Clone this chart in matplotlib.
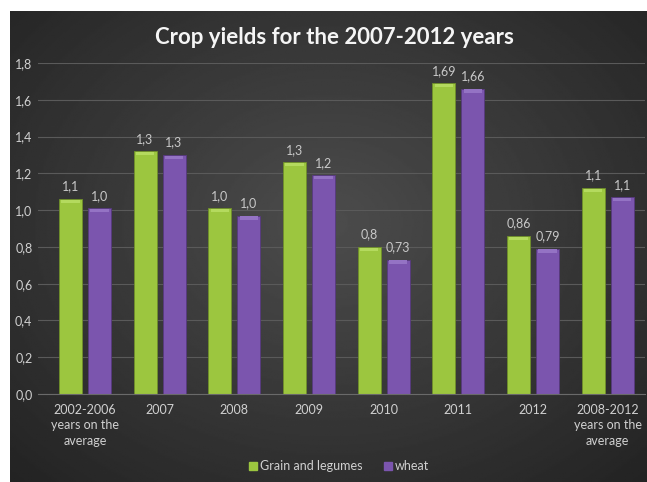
import matplotlib
matplotlib.use('Agg')
import matplotlib.pyplot as plt
import numpy as np

categories = ['2002-2006\nyears on the\naverage', '2007', '2008', '2009', '2010', '2011', '2012',
              '2008-2012\nyears on the\naverage']
grain = [1.06, 1.32, 1.01, 1.26, 0.80, 1.69, 0.86, 1.12]
wheat = [1.01, 1.30, 0.97, 1.19, 0.73, 1.66, 0.79, 1.07]
grain_labels = ['1,1', '1,3', '1,0', '1,3', '0,8', '1,69', '0,86', '1,1']
wheat_labels = ['1,0', '1,3', '1,0', '1,2', '0,73', '1,66', '0,79', '1,1']
yticks = [0.0, 0.2, 0.4, 0.6, 0.8, 1.0, 1.2, 1.4, 1.6, 1.8]
ytick_labels = ['0,0', '0,2', '0,4', '0,6', '0,8', '1,0', '1,2', '1,4', '1,6', '1,8']

plt.rcParams['font.family'] = ['Lato', 'DejaVu Sans']

W, H = 647, 482
fig = plt.figure(figsize=(W / 100, H / 100), dpi=100, facecolor='white')

# dark radial background panel
bg = fig.add_axes([10 / W, 0, 637 / W, 471 / H])
yy, xx = np.mgrid[0:1:300j, 0:1:400j]
r = np.sqrt(((xx - 0.5) / 0.75) ** 2 + ((yy - 0.45) / 0.8) ** 2)
val = np.clip(0.30 - 0.17 * r, 0.14, 0.30)
bg.imshow(val, cmap='gray', vmin=0, vmax=1, aspect='auto', extent=[0, 1, 0, 1])
bg.set_axis_off()

ax = fig.add_axes([38 / W, 88 / H, 607 / W, 331 / H])
ax.set_facecolor('none')
x = np.arange(len(categories))
bw = 0.308
off = 0.194

green = '#9cc63f'
purple = '#7b55ae'
ax.bar(x - off, grain, bw, color=green, edgecolor='#6f8f2a', linewidth=0.6, zorder=3)
ax.bar(x + off, wheat, bw, color=purple, edgecolor='#57397f', linewidth=0.6, zorder=3)
# subtle bevel at bar tops
ax.bar(x - off, [0.018] * len(grain), bw * 0.8, bottom=np.array(grain) - 0.022,
       color='#b4da5e', linewidth=0, zorder=4)
ax.bar(x + off, [0.018] * len(wheat), bw * 0.8, bottom=np.array(wheat) - 0.022,
       color='#9473c4', linewidth=0, zorder=4)

for i in range(len(categories)):
    ax.text(x[i] - off, grain[i] + 0.035, grain_labels[i], ha='center', va='bottom',
            color='#c8c8c8', fontsize=9)
    ax.text(x[i] + off, wheat[i] + 0.035, wheat_labels[i], ha='center', va='bottom',
            color='#c8c8c8', fontsize=9)

ax.set_xlim(-0.628, 7.5)
ax.set_ylim(0, 1.8)
ax.set_yticks(yticks)
ax.set_yticklabels(ytick_labels)
ax.set_xticks(x)
ax.set_xticklabels(categories, linespacing=1.35)
ax.tick_params(axis='both', length=0, colors='#d0d0d0', labelsize=9)
ax.tick_params(axis='x', pad=7)
ax.tick_params(axis='y', pad=4)
ax.grid(axis='y', color='#5a5a5a', linewidth=0.8, zorder=0)
for s in ['top', 'right', 'left']:
    ax.spines[s].set_visible(False)
ax.spines['bottom'].set_color('#6a6a6a')
ax.spines['bottom'].set_zorder(5)

fig.text(334 / W, 1 - 38 / H, 'Crop yields for the 2007-2012 years', ha='center', va='center',
         color='#f5f5f5', fontsize=16, fontweight='bold')

handles = [plt.Line2D([], [], marker='s', linestyle='', color=green, markersize=6),
           plt.Line2D([], [], marker='s', linestyle='', color=purple, markersize=6)]
fig.legend(handles, ['Grain and legumes', 'wheat'], loc='center', bbox_to_anchor=(338 / W, 16 / H),
           ncol=2, frameon=False, fontsize=9, labelcolor='#d0d0d0', handletextpad=0.1,
           columnspacing=1.5, handlelength=1.0)

fig.savefig('out.png', dpi=100, facecolor='white')
